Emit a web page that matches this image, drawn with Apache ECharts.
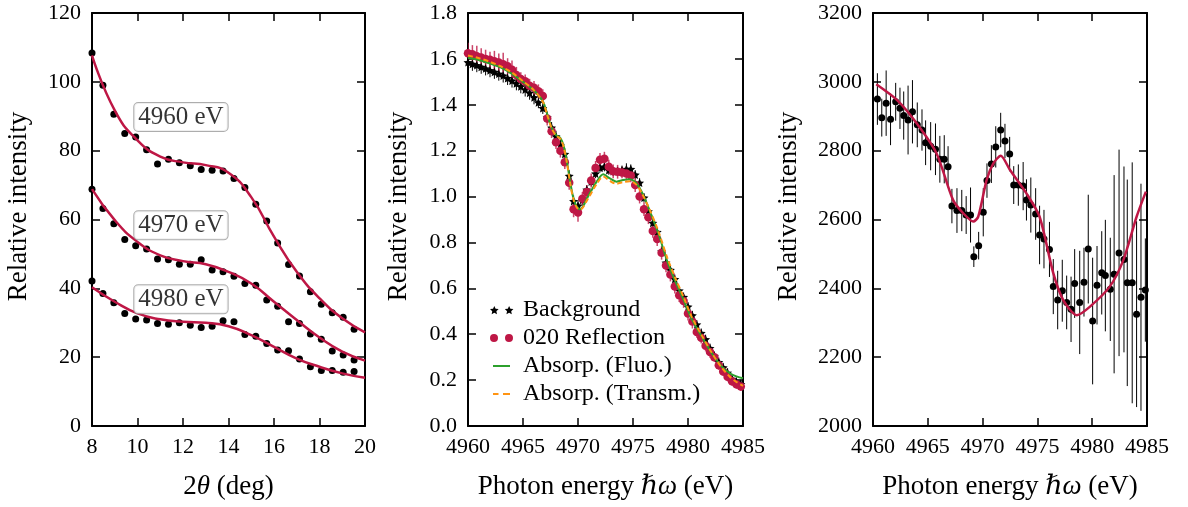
<!DOCTYPE html>
<html><head><meta charset="utf-8">
<script src="https://cdn.jsdelivr.net/npm/echarts@6/dist/echarts.min.js"></script>
<style>html,body{margin:0;padding:0;background:#fff}#c{width:1188px;height:507px}</style>
</head><body><div id="c"></div>
<script>
// ---------- Left panel: intensity vs 2theta ----------
const twoTheta = [8.00, 8.48, 8.96, 9.44, 9.92, 10.40, 10.88, 11.36, 11.84, 12.32, 12.80, 13.28, 13.76,
  14.24, 14.72, 15.20, 15.68, 16.16, 16.64, 17.12, 17.60, 18.08, 18.56, 19.04, 19.52];
const int4960 = [108.4, 99.0, 90.6, 85.0, 84.0, 80.3, 76.1, 77.5, 76.5, 75.6, 74.5, 74.3, 74.1,
  71.9, 69.3, 64.4, 59.6, 53.2, 46.9, 43.6, 39.0, 35.4, 32.9, 31.6, 28.1];
const int4970 = [68.8, 63.2, 58.8, 54.2, 52.4, 51.4, 48.5, 48.3, 47.0, 47.0, 48.3, 45.3, 44.8,
  43.5, 41.4, 40.9, 36.6, 34.8, 30.3, 29.8, 26.7, 25.2, 21.8, 20.6, 19.2];
const int4980 = [42.1, 38.5, 35.8, 32.7, 31.1, 30.8, 29.8, 29.6, 30.0, 29.3, 28.6, 29.0, 30.6,
  30.3, 26.6, 26.1, 24.0, 22.1, 21.9, 19.5, 17.2, 16.1, 16.1, 15.6, 15.8];
const fitTheta = [8, 9, 10, 11, 12, 13, 14, 15, 16, 17, 18, 19, 20];
const fit4960 = [107.7, 91.7, 83.0, 78.3, 76.6, 75.8, 73.6, 66.5, 55.0, 44.8, 37.1, 31.3, 27.2];
const fit4970 = [68.8, 59.8, 53.5, 49.6, 47.9, 47.0, 44.8, 41.4, 36.1, 30.8, 25.7, 21.6, 19.0];
const fit4980 = [40.3, 36.1, 32.7, 31.0, 30.3, 30.0, 29.0, 26.4, 23.0, 19.6, 17.2, 15.3, 14.0];
const leftLabels = ['4960 eV', '4970 eV', '4980 eV'];
const leftTicksX = [8, 20, 2];
const leftTicksY = [0, 120, 20];

// ---------- Middle panel: spectra ----------
const energyMid = [4960.0, 4960.4, 4960.8, 4961.2, 4961.6, 4962.0, 4962.4, 4962.8, 4963.2, 4963.6,
  4964.0, 4964.4, 4964.8, 4965.2, 4965.6, 4966.0, 4966.4, 4966.8, 4967.2, 4967.6,
  4968.0, 4968.4, 4968.8, 4969.2, 4969.6, 4970.0, 4970.4, 4970.8, 4971.2, 4971.6,
  4972.0, 4972.4, 4972.8, 4973.2, 4973.6, 4974.0, 4974.4, 4974.8, 4975.2, 4975.6,
  4976.0, 4976.4, 4976.8, 4977.2, 4977.6, 4978.0, 4978.4, 4978.8, 4979.2, 4979.6,
  4980.0, 4980.4, 4980.8, 4981.2, 4981.6, 4982.0, 4982.4, 4982.8, 4983.2, 4983.6,
  4984.0, 4984.4, 4984.8];
const reflection = [1.625, 1.620, 1.612, 1.606, 1.600, 1.596, 1.590, 1.584, 1.577, 1.568,
  1.553, 1.530, 1.512, 1.502, 1.483, 1.474, 1.459, 1.438, 1.340, 1.285,
  1.237, 1.200, 1.150, 1.060, 0.945, 0.930, 0.990, 1.020, 1.070, 1.125,
  1.160, 1.165, 1.130, 1.110, 1.108, 1.105, 1.100, 1.092, 1.050, 1.000,
  0.945, 0.910, 0.850, 0.815, 0.755, 0.700, 0.660, 0.608, 0.570, 0.545,
  0.490, 0.455, 0.410, 0.385, 0.350, 0.322, 0.300, 0.265, 0.238, 0.215,
  0.195, 0.182, 0.172];
const reflectionErr = [0.045, 0.04, 0.045, 0.04, 0.04, 0.035, 0.045, 0.04, 0.05, 0.035,
  0.04, 0.035, 0.03, 0.03, 0.03, 0.03, 0.03, 0.03, 0.03, 0.03,
  0.03, 0.03, 0.03, 0.03, 0.035, 0.04, 0.03, 0.03, 0.03, 0.03,
  0.03, 0.03, 0.03, 0.03, 0.03, 0.025, 0.03, 0.03, 0.03, 0.03,
  0.03, 0.03, 0.03, 0.03, 0.03, 0.03, 0.03, 0.03, 0.03, 0.03,
  0.03, 0.03, 0.025, 0.025, 0.025, 0.025, 0.02, 0.02, 0.02, 0.02,
  0.02, 0.02, 0.02];
const background = [1.585, 1.578, 1.572, 1.565, 1.558, 1.550, 1.543, 1.535, 1.527, 1.516,
  1.505, 1.493, 1.480, 1.466, 1.452, 1.432, 1.410, 1.385, 1.345, 1.300,
  1.262, 1.225, 1.185, 1.090, 0.980, 0.960, 0.985, 1.030, 1.065, 1.100,
  1.125, 1.130, 1.115, 1.110, 1.110, 1.115, 1.120, 1.120, 1.095, 1.060,
  0.995, 0.935, 0.885, 0.845, 0.760, 0.712, 0.680, 0.640, 0.590, 0.562,
  0.520, 0.482, 0.442, 0.405, 0.378, 0.339, 0.305, 0.278, 0.255, 0.232,
  0.205, 0.192, 0.182];
const backgroundErr = [0.03, 0.03, 0.03, 0.03, 0.03, 0.03, 0.03, 0.03, 0.03, 0.03,
  0.03, 0.03, 0.03, 0.03, 0.03, 0.03, 0.025, 0.025, 0.025, 0.025,
  0.025, 0.025, 0.025, 0.025, 0.025, 0.025, 0.02, 0.02, 0.02, 0.02,
  0.02, 0.02, 0.02, 0.02, 0.02, 0.02, 0.025, 0.02, 0.02, 0.02,
  0.02, 0.02, 0.02, 0.02, 0.02, 0.02, 0.02, 0.02, 0.02, 0.02,
  0.02, 0.02, 0.02, 0.02, 0.02, 0.02, 0.02, 0.02, 0.02, 0.02,
  0.02, 0.02, 0.02];
const absEnergy = [4960, 4961, 4962, 4963, 4964, 4965, 4966,
  4966.8, 4967.2, 4967.6, 4968.0, 4968.4, 4968.7, 4969.0, 4969.3, 4969.6, 4969.9, 4970.2,
  4970.9, 4971.7, 4972.3, 4972.9, 4973.5, 4974.1, 4974.7, 4975.3, 4975.8,
  4976.5, 4977.3, 4978.1, 4978.8, 4979.6, 4980.3, 4981.25, 4982.15, 4983.05, 4983.8, 4984.4, 4985];
const absFluo = [1.605, 1.595, 1.580, 1.562, 1.535, 1.500, 1.462,
  1.415, 1.360, 1.300, 1.268, 1.255, 1.220, 1.150, 1.060, 0.990, 0.955, 0.945,
  0.999, 1.065, 1.097, 1.079, 1.065, 1.072, 1.075, 1.058, 1.020,
  0.940, 0.840, 0.720, 0.636, 0.550, 0.470, 0.390, 0.318, 0.260, 0.230, 0.216, 0.208];
const absTrans = [1.615, 1.603, 1.587, 1.567, 1.540, 1.503, 1.463,
  1.413, 1.355, 1.298, 1.266, 1.252, 1.215, 1.145, 1.055, 0.985, 0.952, 0.943,
  0.990, 1.055, 1.087, 1.068, 1.056, 1.063, 1.067, 1.052, 1.015,
  0.945, 0.850, 0.735, 0.650, 0.562, 0.480, 0.395, 0.320, 0.255, 0.215, 0.192, 0.175];
const legendNames = ['Background', '020 Reflection', 'Absorp. (Fluo.)', 'Absorp. (Transm.)'];
const energyTicks = [4960, 4985, 5];
const midTicksY = [0, 1.8, 0.2];

// ---------- Right panel ----------
const energyRight = [4960.4, 4960.8, 4961.2, 4961.6, 4962.07, 4962.46, 4962.8, 4963.2, 4963.6, 4964.04,
  4964.47, 4964.8, 4965.26, 4965.7, 4966.1, 4966.5, 4966.85, 4967.2, 4967.66, 4968.1,
  4968.5, 4968.9, 4969.2, 4969.64, 4970.06, 4970.4, 4970.8, 4971.2, 4971.65, 4972.04,
  4972.47, 4972.84, 4973.26, 4973.7, 4974.0, 4974.4, 4974.84, 4975.2, 4975.6, 4976.1,
  4976.45, 4976.85, 4977.27, 4977.67, 4978.07, 4978.4, 4978.86, 4979.25, 4979.64, 4980.04,
  4980.44, 4980.87, 4981.2, 4981.65, 4982.0, 4982.45, 4982.9, 4983.2, 4983.65, 4984.05, 4984.45, 4984.85];
const intensityRight = [2950, 2896, 2938, 2891, 2942, 2923, 2902, 2889, 2913, 2875,
  2860, 2823, 2813, 2804, 2775, 2775, 2753, 2639, 2626, 2626,
  2613, 2613, 2492, 2524, 2621, 2713, 2761, 2811, 2860, 2828,
  2790, 2700, 2700, 2697, 2657, 2642, 2616, 2555, 2543, 2513,
  2405, 2366, 2393, 2359, 2339, 2414, 2359, 2418, 2514, 2305,
  2409, 2445, 2437, 2397, 2441, 2503, 2484, 2416, 2416, 2325, 2374, 2395];
const intensityRightErr = [75, 55, 95, 75, 55, 60, 70, 100, 92, 65,
  60, 65, 70, 75, 68, 70, 60, 50, 65, 60,
  55, 80, 30, 40, 70, 50, 55, 60, 50, 50,
  50, 55, 60, 70, 60, 80, 75, 85, 85, 80,
  80, 85, 90, 78, 95, 100, 150, 100, 158, 184,
  114, 121, 162, 150, 288, 300, 270, 300, 350, 270, 330, 150];
const fitEnergyRight = [4960.3, 4962.2, 4964.0, 4965.8, 4967.3, 4968.24, 4969.15, 4969.6, 4970.37, 4970.98,
  4971.65, 4972.5, 4974.0, 4975.2, 4976.45, 4977.36, 4978.6, 4979.8, 4981.6, 4982.84, 4984.05, 4984.9];
const fitRight = [2993, 2947, 2879, 2792, 2657, 2618, 2594, 2608, 2715, 2763,
  2785, 2744, 2676, 2608, 2444, 2366, 2322, 2347, 2405, 2482, 2608, 2681];
const rightTicksY = [2000, 3200, 200];

// ---------- styling ----------
const FONT = 'Liberation Serif, Times New Roman, DejaVu Serif, serif';
const CRIMSON = '#BE1745';
const GREEN = '#2CA02C';
const ORANGE = '#FF9412';
const TICK_FS = 22, TITLE_FS = 27;

function starPath(cx, cy, R) {
  let s = '';
  for (let k = 0; k < 10; k++) {
    const a = -Math.PI / 2 + k * Math.PI / 5;
    const rr = (k % 2) ? R * 0.48 : R;
    s += (k ? 'L' : 'M') + (cx + rr * Math.cos(a)).toFixed(2) + ',' + (cy + rr * Math.sin(a)).toFixed(2) + ' ';
  }
  return s + 'Z ';
}
const STAR = 'path://' + starPath(10, 10, 10);
const ANCHOR = 'M0,0 Z M28,9 Z ';
const ICON_STARS = 'path://' + ANCHOR + starPath(4, 5, 4.6) + starPath(19, 5, 4.6);
const ICON_DOTS = 'path://' + ANCHOR + 'M0,4.5 A4,4 0 1 0 8,4.5 A4,4 0 1 0 0,4.5 Z M15,4.5 A4,4 0 1 0 23,4.5 A4,4 0 1 0 15,4.5 Z';
const ICON_LINE = 'path://' + ANCHOR + 'M3,3.5 L20,3.5 L20,5.5 L3,5.5 Z';
const ICON_DASH = 'path://' + ANCHOR + 'M3,3.5 L8.5,3.5 L8.5,5.5 L3,5.5 Z M13,3.5 L20,3.5 L20,5.5 L13,5.5 Z';

const nameStyle = {
  fontFamily: FONT, fontSize: TITLE_FS, color: '#000',
  rich: { it: { fontFamily: FONT, fontSize: TITLE_FS, fontStyle: 'italic', color: '#000' } }
};
const lineSty = { show: true, onZero: false, lineStyle: { color: '#000', width: 2 } };
const tickSty = { show: true, inside: true, length: 8, lineStyle: { color: '#000', width: 1.5 } };
const plain = v => String(v);

function xPair(gi, t, name, gap) {
  const base = { type: 'value', gridIndex: gi, min: t[0], max: t[1], interval: t[2],
    axisLine: lineSty, axisTick: tickSty, splitLine: { show: false } };
  return [
    Object.assign({}, base, { position: 'bottom', name: name, nameLocation: 'middle', nameGap: gap,
      nameTextStyle: nameStyle,
      axisLabel: { show: true, fontFamily: FONT, fontSize: TICK_FS, color: '#000', margin: 10,
        showMinLabel: true, showMaxLabel: true, formatter: plain } }),
    Object.assign({}, base, { position: 'top', axisLabel: { show: false } })
  ];
}
function yPair(gi, t, name, gap, fmt) {
  const base = { type: 'value', gridIndex: gi, min: t[0], max: t[1], interval: t[2],
    axisLine: lineSty, axisTick: tickSty, splitLine: { show: false } };
  return [
    Object.assign({}, base, { position: 'left', name: name, nameLocation: 'middle', nameGap: gap,
      nameTextStyle: Object.assign({}, nameStyle, { padding: [0, 0, 0, 26] }),
      axisLabel: { show: true, fontFamily: FONT, fontSize: TICK_FS, color: '#000', margin: 11,
        showMinLabel: true, showMaxLabel: true, formatter: fmt || plain } }),
    Object.assign({}, base, { position: 'right', axisLabel: { show: false } })
  ];
}

function zip(xs, ys) { return xs.map((x, i) => [x, ys[i]]); }
function errData(xs, ys, es) { return xs.map((x, i) => [x, ys[i] - es[i], ys[i] + es[i]]); }
function errRender(color, width) {
  return function (params, api) {
    const p1 = api.coord([api.value(0), api.value(1)]);
    const p2 = api.coord([api.value(0), api.value(2)]);
    return { type: 'line', shape: { x1: p1[0], y1: p1[1], x2: p2[0], y2: p2[1] },
      style: { stroke: color, lineWidth: width } };
  };
}

const series = [];
// left panel
[int4960, int4970, int4980].forEach(function (arr) {
  series.push({ type: 'scatter', xAxisIndex: 0, yAxisIndex: 0, data: zip(twoTheta, arr),
    symbol: 'circle', symbolSize: 7, itemStyle: { color: '#000', opacity: 1 }, z: 2, silent: true });
});
[fit4960, fit4970, fit4980].forEach(function (arr) {
  series.push({ type: 'line', xAxisIndex: 0, yAxisIndex: 0, data: zip(fitTheta, arr),
    smooth: 0.5, showSymbol: false, symbol: 'none', lineStyle: { color: CRIMSON, width: 2.5 }, z: 3, silent: true });
});
series.push({
  type: 'scatter', xAxisIndex: 0, yAxisIndex: 0, z: 5, silent: true,
  symbolSize: 1, itemStyle: { color: 'rgba(0,0,0,0)' },
  data: [[11.91, 89.8, leftLabels[0]], [11.91, 58.3, leftLabels[1]], [11.91, 36.8, leftLabels[2]]],
  label: { show: true, position: 'inside', formatter: p => p.data[2],
    fontFamily: FONT, fontSize: 25, color: '#000', backgroundColor: '#fff',
    borderColor: '#999', borderWidth: 1, borderRadius: 4, padding: [2, 4, 1, 4] }
});
// middle panel
series.push({ type: 'custom', name: 'bgErr', xAxisIndex: 2, yAxisIndex: 2, clip: true, z: 1, silent: true,
  data: errData(energyMid, background, backgroundErr), renderItem: errRender('#000', 1), encode: { x: 0, y: [1, 2] } });
series.push({ type: 'custom', name: 'reflErr', xAxisIndex: 2, yAxisIndex: 2, clip: true, z: 1, silent: true,
  data: errData(energyMid, reflection, reflectionErr), renderItem: errRender('rgba(190,23,69,0.8)', 1.5), encode: { x: 0, y: [1, 2] } });
series.push({ type: 'scatter', name: legendNames[0], xAxisIndex: 2, yAxisIndex: 2, z: 2, silent: true,
  data: zip(energyMid, background), symbol: STAR, symbolKeepAspect: true, symbolSize: 9,
  itemStyle: { color: '#000', opacity: 1 } });
series.push({ type: 'scatter', name: legendNames[1], xAxisIndex: 2, yAxisIndex: 2, z: 3, silent: true,
  data: zip(energyMid, reflection), symbol: 'circle', symbolSize: 8.5, itemStyle: { color: CRIMSON, opacity: 1 } });
series.push({ type: 'line', name: legendNames[2], xAxisIndex: 2, yAxisIndex: 2, z: 4, silent: true,
  data: zip(absEnergy, absFluo), smooth: 0.3, showSymbol: false, symbol: 'none',
  itemStyle: { color: GREEN }, lineStyle: { color: GREEN, width: 2 } });
series.push({ type: 'line', name: legendNames[3], xAxisIndex: 2, yAxisIndex: 2, z: 5, silent: true,
  data: zip(absEnergy, absTrans), smooth: 0.3, showSymbol: false, symbol: 'none',
  itemStyle: { color: ORANGE }, lineStyle: { color: ORANGE, width: 2, type: [5, 3] } });
// right panel
series.push({ type: 'custom', xAxisIndex: 4, yAxisIndex: 4, clip: true, z: 1, silent: true,
  data: errData(energyRight, intensityRight, intensityRightErr), renderItem: errRender('#000', 1), encode: { x: 0, y: [1, 2] } });
series.push({ type: 'scatter', xAxisIndex: 4, yAxisIndex: 4, z: 2, silent: true,
  data: zip(energyRight, intensityRight), symbol: 'circle', symbolSize: 7, itemStyle: { color: '#000', opacity: 1 } });
series.push({ type: 'line', xAxisIndex: 4, yAxisIndex: 4, z: 3, silent: true,
  data: zip(fitEnergyRight, fitRight), smooth: 0.25, showSymbol: false, symbol: 'none',
  lineStyle: { color: CRIMSON, width: 2.5 } });

const energyName = 'Photon energy {it|\u210F\u03C9} (eV)';
const option = {
  animation: false,
  backgroundColor: '#fff',
  textStyle: { fontFamily: FONT },
  grid: [
    { left: 92, top: 13, width: 273, height: 413, containLabel: false, outerBoundsMode: 'none' },
    { left: 468, top: 13, width: 275, height: 413, containLabel: false, outerBoundsMode: 'none' },
    { left: 873, top: 13, width: 274, height: 413, containLabel: false, outerBoundsMode: 'none' }
  ],
  xAxis: [].concat(
    xPair(0, leftTicksX, '2{it|\u03B8} (deg)', 47),
    xPair(1, energyTicks, energyName, 47),
    xPair(2, energyTicks, energyName, 47)
  ),
  yAxis: [].concat(
    yPair(0, leftTicksY, 'Relative intensity', 60),
    yPair(1, midTicksY, 'Relative intensity', 56, v => v.toFixed(1)),
    yPair(2, rightTicksY, 'Relative intensity', 71)
  ),
  legend: {
    show: true, orient: 'vertical', left: 490, top: 298, padding: 0, itemGap: 4,
    itemWidth: 28, itemHeight: 9, selectedMode: false,
    textStyle: { fontFamily: FONT, fontSize: 24, color: '#000', lineHeight: 24 },
    data: [
      { name: legendNames[0], icon: ICON_STARS, itemStyle: { color: '#000', borderWidth: 0, opacity: 1 } },
      { name: legendNames[1], icon: ICON_DOTS, itemStyle: { color: CRIMSON, borderWidth: 0, opacity: 1 } },
      { name: legendNames[2], icon: ICON_LINE, itemStyle: { color: GREEN, borderWidth: 0 } },
      { name: legendNames[3], icon: ICON_DASH, itemStyle: { color: ORANGE, borderWidth: 0 } }
    ]
  },
  series: series
};
const chart = echarts.init(document.getElementById('c'), null, { renderer: 'canvas' });
chart.setOption(option);
</script>
</body></html>
